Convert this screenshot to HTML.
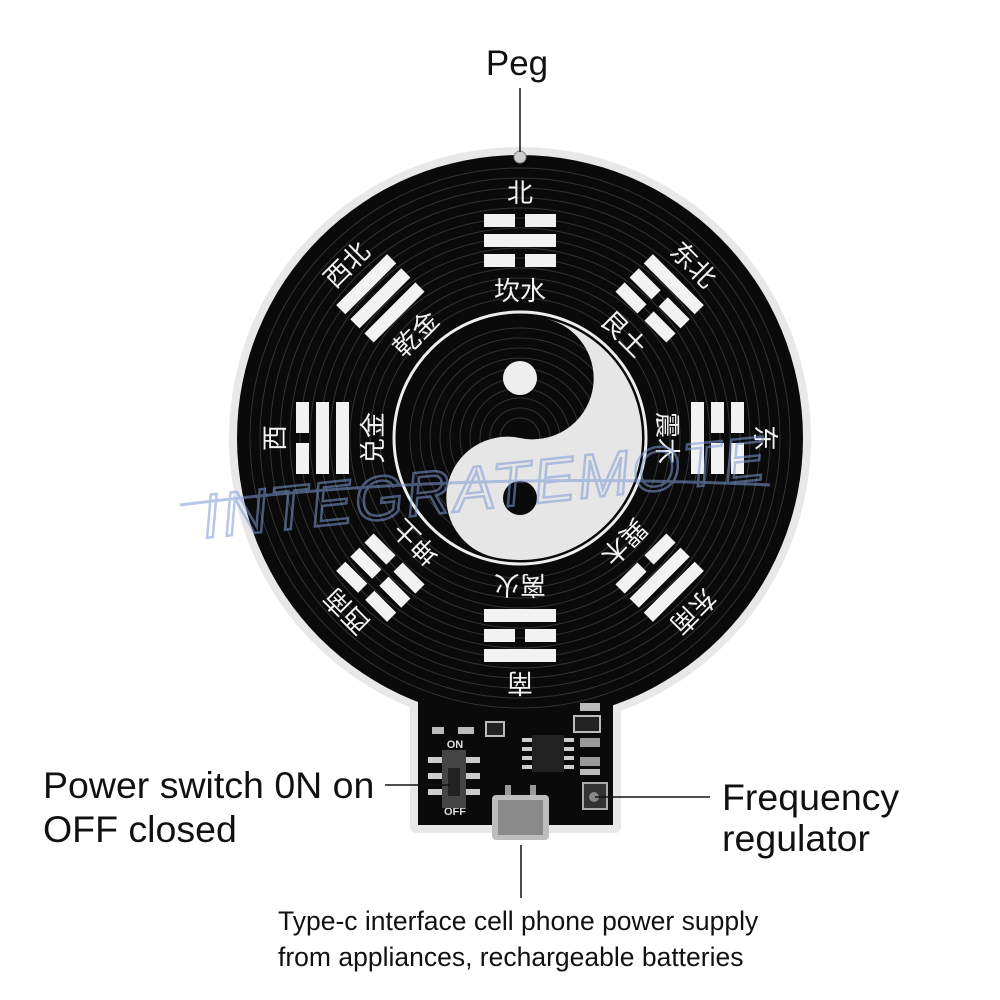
<!DOCTYPE html>
<html><head><meta charset="utf-8"><style>
html,body{margin:0;padding:0;background:#fff;}
svg{display:block;}
</style></head><body>
<svg width="1000" height="1000" viewBox="0 0 1000 1000" xmlns="http://www.w3.org/2000/svg">
<defs>
<g id="grooves" fill="none" stroke="#333" stroke-width="1">
<circle cx="520" cy="438" r="20"/><circle cx="520" cy="438" r="30"/><circle cx="520" cy="438" r="40"/><circle cx="520" cy="438" r="50"/><circle cx="520" cy="438" r="60"/><circle cx="520" cy="438" r="70"/><circle cx="520" cy="438" r="80"/><circle cx="520" cy="438" r="90"/><circle cx="520" cy="438" r="100"/><circle cx="520" cy="438" r="110"/><circle cx="520" cy="438" r="140"/><circle cx="520" cy="438" r="150"/><circle cx="520" cy="438" r="160"/><circle cx="520" cy="438" r="170"/><circle cx="520" cy="438" r="180"/><circle cx="520" cy="438" r="190"/><circle cx="520" cy="438" r="200"/><circle cx="520" cy="438" r="210"/><circle cx="520" cy="438" r="220"/><circle cx="520" cy="438" r="230"/><circle cx="520" cy="438" r="240"/><circle cx="520" cy="438" r="250"/><circle cx="520" cy="438" r="260"/><circle cx="520" cy="438" r="270"/>
</g>
</defs>
<path d="M410 680 L621 680 L621 826 Q621 833 614 833 L417 833 Q410 833 410 826 Z" fill="#e8e8e8"/>
<circle cx="520" cy="438" r="291" fill="#e8e8e8"/>
<rect x="418" y="660" width="195" height="165" fill="#0a0a0a"/>
<circle cx="520" cy="438" r="283" fill="#0a0a0a"/>
<use href="#grooves"/>
<circle cx="520" cy="438" r="126" fill="none" stroke="#eee" stroke-width="3"/>
<g transform="rotate(12 520 438)">
<path d="M520 316 A122 122 0 0 1 520 560 A61 61 0 0 1 520 438 A61 61 0 0 0 520 316 Z" fill="#e6e6e6"/>
</g>
<circle cx="520" cy="378" r="17" fill="#eee"/>
<circle cx="520" cy="498" r="17" fill="#0a0a0a"/>
<circle cx="520" cy="157" r="6" fill="#ccc" stroke="#888"/>
<line x1="520" y1="88" x2="520" y2="152" stroke="#111" stroke-width="1.5"/>

<g font-family="'Liberation Sans','Noto Sans CJK SC',sans-serif" fill="#f2f2f2" font-size="26" text-anchor="middle">
<g transform="rotate(0 520 438)"><text x="520" y="202">北</text>
<rect x="484" y="214" width="31" height="13"/><rect x="525" y="214" width="31" height="13"/>
<rect x="484" y="234" width="72" height="13"/>
<rect x="484" y="254" width="31" height="13"/><rect x="525" y="254" width="31" height="13"/>
<text x="520" y="300">坎水</text></g>
<g transform="rotate(45 520 438)"><text x="520" y="202">东北</text>
<rect x="484" y="214" width="72" height="13"/>
<rect x="484" y="234" width="31" height="13"/><rect x="525" y="234" width="31" height="13"/>
<rect x="484" y="254" width="31" height="13"/><rect x="525" y="254" width="31" height="13"/>
<text x="520" y="300">艮土</text></g>
<g transform="rotate(90 520 438)"><text x="520" y="202">东</text>
<rect x="484" y="214" width="31" height="13"/><rect x="525" y="214" width="31" height="13"/>
<rect x="484" y="234" width="31" height="13"/><rect x="525" y="234" width="31" height="13"/>
<rect x="484" y="254" width="72" height="13"/>
<text x="520" y="300">震木</text></g>
<g transform="rotate(135 520 438)"><text x="520" y="202">东南</text>
<rect x="484" y="214" width="72" height="13"/>
<rect x="484" y="234" width="72" height="13"/>
<rect x="484" y="254" width="31" height="13"/><rect x="525" y="254" width="31" height="13"/>
<text x="520" y="300">巽木</text></g>
<g transform="rotate(180 520 438)"><text x="520" y="202">南</text>
<rect x="484" y="214" width="72" height="13"/>
<rect x="484" y="234" width="31" height="13"/><rect x="525" y="234" width="31" height="13"/>
<rect x="484" y="254" width="72" height="13"/>
<text x="520" y="300">离火</text></g>
<g transform="rotate(225 520 438)"><text x="520" y="202">西南</text>
<rect x="484" y="214" width="31" height="13"/><rect x="525" y="214" width="31" height="13"/>
<rect x="484" y="234" width="31" height="13"/><rect x="525" y="234" width="31" height="13"/>
<rect x="484" y="254" width="31" height="13"/><rect x="525" y="254" width="31" height="13"/>
<text x="520" y="300">坤土</text></g>
<g transform="rotate(270 520 438)"><text x="520" y="202">西</text>
<rect x="484" y="214" width="31" height="13"/><rect x="525" y="214" width="31" height="13"/>
<rect x="484" y="234" width="72" height="13"/>
<rect x="484" y="254" width="72" height="13"/>
<text x="520" y="300">兑金</text></g>
<g transform="rotate(315 520 438)"><text x="520" y="202">西北</text>
<rect x="484" y="214" width="72" height="13"/>
<rect x="484" y="234" width="72" height="13"/>
<rect x="484" y="254" width="72" height="13"/>
<text x="520" y="300">乾金</text></g>
</g>

<g>
<rect x="432" y="727" width="12" height="7" fill="#bbb"/><rect x="458" y="727" width="16" height="7" fill="#bbb"/>
<text x="455" y="748" font-family="'Liberation Sans',sans-serif" font-size="11" font-weight="bold" fill="#ddd" text-anchor="middle">ON</text>
<text x="455" y="815" font-family="'Liberation Sans',sans-serif" font-size="11" font-weight="bold" fill="#ddd" text-anchor="middle">OFF</text>
<rect x="428" y="757" width="14" height="6" fill="#ccc"/><rect x="428" y="773" width="14" height="6" fill="#ccc"/><rect x="428" y="789" width="14" height="6" fill="#ccc"/>
<rect x="466" y="757" width="14" height="6" fill="#ccc"/><rect x="466" y="773" width="14" height="6" fill="#ccc"/><rect x="466" y="789" width="14" height="6" fill="#ccc"/>
<rect x="442" y="750" width="24" height="58" fill="#444"/><rect x="448" y="768" width="12" height="28" fill="#222"/>
<rect x="486" y="722" width="18" height="14" fill="#222" stroke="#bbb" stroke-width="2"/>
<rect x="522" y="738" width="12" height="4" fill="#ccc"/><rect x="522" y="747" width="12" height="4" fill="#ccc"/><rect x="522" y="756" width="12" height="4" fill="#ccc"/><rect x="522" y="765" width="12" height="4" fill="#ccc"/>
<rect x="562" y="738" width="12" height="4" fill="#ccc"/><rect x="562" y="747" width="12" height="4" fill="#ccc"/><rect x="562" y="756" width="12" height="4" fill="#ccc"/><rect x="562" y="765" width="12" height="4" fill="#ccc"/>
<rect x="532" y="735" width="32" height="37" fill="#222"/>
<rect x="580" y="703" width="20" height="8" fill="#bbb"/>
<rect x="574" y="716" width="26" height="16" fill="#222" stroke="#bbb" stroke-width="2"/>
<rect x="580" y="738" width="20" height="9" fill="#999"/><rect x="580" y="757" width="20" height="9" fill="#999"/><rect x="580" y="769" width="20" height="6" fill="#bbb"/>
<rect x="583" y="783" width="24" height="26" fill="#333" stroke="#aaa" stroke-width="2"/><circle cx="594" cy="797" r="5" fill="#888"/>
<rect x="492" y="795" width="57" height="45" rx="4" fill="#bdbdbd"/><rect x="498" y="800" width="45" height="35" fill="#8a8a8a"/>
<rect x="505" y="785" width="6" height="10" fill="#999"/><rect x="530" y="785" width="6" height="10" fill="#999"/>
</g>

<g opacity="0.55">
<text x="200" y="510" font-family="'Liberation Sans',sans-serif" font-size="62" font-style="italic" fill="none" stroke="#7d9ad6" stroke-width="2.5" transform="rotate(-6 470 480)" letter-spacing="3">INTEGRATEMOTE</text>
<path d="M180 505 Q450 470 770 485" fill="none" stroke="#7d9ad6" stroke-width="3"/>
</g>

<g stroke="#111" stroke-width="1.5">
<line x1="385" y1="785" x2="450" y2="785"/>
<line x1="595" y1="797" x2="710" y2="797"/>
<line x1="521" y1="845" x2="521" y2="898"/>
</g>
<g font-family="'Liberation Sans',sans-serif" fill="#111">
<text x="517" y="75" font-size="35" text-anchor="middle">Peg</text>
<text x="43" y="798" font-size="37.5">Power switch 0N on</text>
<text x="43" y="842" font-size="37.5">OFF closed</text>
<text x="722" y="810" font-size="37.5">Frequency</text>
<text x="722" y="851" font-size="37.5">regulator</text>
<text x="278" y="930" font-size="26.5">Type-c interface cell phone power supply</text>
<text x="278" y="966" font-size="26.5">from appliances, rechargeable batteries</text>
</g>
</svg>
</body></html>
